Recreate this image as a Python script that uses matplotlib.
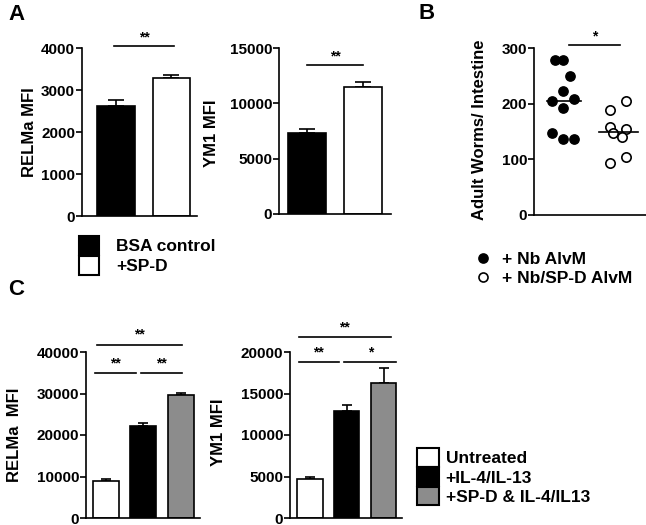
import matplotlib
matplotlib.use("Agg")
import matplotlib.pyplot as plt
from matplotlib.patches import Patch
from matplotlib.lines import Line2D

plt.rcParams['font.family'] = ['Liberation Sans', 'DejaVu Sans']
plt.rcParams['font.weight'] = 'bold'

# --- datos panel A ---
grupos_a = ["BSA control", "+SP-D"]
colores_a = ["black", "white"]
relma_a = [2620, 3280]
relma_a_err = [150, 80]
ym1_a = [7300, 11480]
ym1_a_err = [420, 450]

# --- datos panel B ---
nb_alvm = [278, 279, 250, 222, 208, 204, 192, 148, 136, 136]
nb_alvm_dx = [-0.15, 0.0, 0.13, 0.0, 0.2, -0.2, 0.0, -0.2, 0.0, 0.19]
spd_alvm = [188, 205, 158, 154, 148, 140, 105, 93]
spd_alvm_dx = [-0.15, 0.13, -0.15, 0.13, -0.09, 0.07, 0.13, -0.15]
mediana_b = [205, 149]

# --- datos panel C ---
grupos_c = ["Untreated", "+IL-4/IL-13", "+SP-D & IL-4/IL13"]
colores_c = ["white", "black", "#8c8c8c"]
relma_c = [8900, 22100, 29700]
relma_c_err = [400, 800, 500]
ym1_c = [4720, 12860, 16300]
ym1_c_err = [240, 800, 1770]

W, H = 646, 525
fig = plt.figure(figsize=(W / 100, H / 100), dpi=100)


def eje(x0, y0, x1, y1):
    """Crea ejes a partir de coordenadas en pixeles (arriba-izquierda)"""
    ax = fig.add_axes([x0 / W, 1 - y1 / H, (x1 - x0) / W, (y1 - y0) / H])
    for s in ["top", "right"]:
        ax.spines[s].set_visible(False)
    for s in ["left", "bottom"]:
        ax.spines[s].set_linewidth(1.2)
    ax.tick_params(axis="y", width=1.2, length=4, pad=1)
    ax.tick_params(axis="x", bottom=False, labelbottom=False)
    return ax


def ticks_y(ax, lim, valores):
    ax.set_ylim(0, lim)
    ax.set_yticks(valores)
    ax.set_yticklabels([str(v) for v in valores], fontsize=11, fontweight="bold")


def barras(ax, valores, errores, colores, ancho, capsize):
    x = list(range(len(valores)))
    ax.bar(x, valores, width=ancho, color=colores, edgecolor="black", linewidth=1.2, zorder=2)
    ax.errorbar(x, valores, yerr=[[0] * len(errores), errores], fmt="none",
                ecolor="black", elinewidth=1.2, capsize=capsize, capthick=1.2, zorder=1)


def signif(ax, x0, x1, y, texto, dy):
    ax.plot([x0, x1], [y, y], color="black", lw=1.2, clip_on=False)
    ax.text((x0 + x1) / 2, y + dy, texto, ha="center", va="bottom", fontsize=10,
            fontweight="bold", clip_on=False)


def ylabel(x, y, texto):
    fig.text(x / W, 1 - y / H, texto, rotation=90, ha="center", va="center",
             fontsize=12, fontweight="bold")


# Panel A izquierda
ax1 = eje(82, 48, 197, 216)
barras(ax1, relma_a, relma_a_err, colores_a, 0.68, 5.5)
ax1.set_xlim(-0.61, 1.46)
ticks_y(ax1, 4000, [0, 1000, 2000, 3000, 4000])
signif(ax1, -0.03, 1.05, 4050, "**", 40)
ylabel(29, 132, "RELMa MFI")

# Panel A derecha
ax2 = eje(279, 48, 391, 214)
barras(ax2, ym1_a, ym1_a_err, colores_a, 0.68, 5.5)
ax2.set_xlim(-0.5, 1.5)
ticks_y(ax2, 15000, [0, 5000, 10000, 15000])
signif(ax2, 0.0, 1.0, 13450, "**", 150)
ylabel(212, 133, "YM1 MFI")

# Panel B
ax3 = eje(534, 48, 646, 215)
ax3.scatter([0 + d for d in nb_alvm_dx], nb_alvm, s=45, color="black", zorder=3)
ax3.scatter([1 + d for d in spd_alvm_dx], spd_alvm, s=45, facecolor="white",
            edgecolor="black", linewidth=1.2, zorder=3)
ax3.plot([-0.3, 0.32], [mediana_b[0]] * 2, color="black", lw=1.2, zorder=4)
ax3.plot([0.65, 1.35], [mediana_b[1]] * 2, color="black", lw=1.2, zorder=4)
ax3.set_xlim(-0.53, 1.5)
ticks_y(ax3, 300, [0, 100, 200, 300])
signif(ax3, 0.1, 1.03, 305, "*", 3)
ylabel(479, 130, "Adult Worms/ Intestine")

# Panel C izquierda
ax4 = eje(86, 352, 200, 518)
barras(ax4, relma_c, relma_c_err, colores_c, 0.7, 3.6)
ax4.set_xlim(-0.54, 2.52)
ticks_y(ax4, 40000, [0, 10000, 20000, 30000, 40000])
signif(ax4, -0.25, 2.03, 41800, "**", 700)
signif(ax4, -0.3, 0.8, 34900, "**", 700)
signif(ax4, 0.94, 2.03, 34900, "**", 700)
ylabel(15, 435, "RELMa  MFI")

# Panel C derecha
ax5 = eje(290, 352, 402, 518)
barras(ax5, ym1_c, ym1_c_err, colores_c, 0.7, 3.6)
ax5.set_xlim(-0.53, 2.5)
ticks_y(ax5, 20000, [0, 5000, 10000, 15000, 20000])
signif(ax5, -0.3, 2.2, 21750, "**", 350)
signif(ax5, -0.3, 0.8, 18750, "**", 350)
signif(ax5, 0.94, 2.35, 18750, "*", 350)
ylabel(219, 432, "YM1 MFI")

# Leyendas
h_a = [Patch(facecolor=c, edgecolor="black", linewidth=1.5) for c in colores_a]
fig.legend(h_a, grupos_a, loc="upper left", bbox_to_anchor=(79 / W, 1 - 236 / H),
           frameon=False, handlelength=1.15, handleheight=1.3,
           handletextpad=1.0, labelspacing=0.05, borderpad=0, borderaxespad=0,
           prop={"weight": "bold", "size": 12.5})

h_b = [Line2D([], [], marker="o", ls="none", markersize=6.5, markerfacecolor=f,
              markeredgecolor="black", markeredgewidth=1.2) for f in ["black", "white"]]
fig.legend(h_b, ["+ Nb AlvM", "+ Nb/SP-D AlvM"], loc="upper left",
           bbox_to_anchor=(474 / W, 1 - 252 / H), frameon=False, handlelength=1.0,
           handletextpad=0.6, labelspacing=0.2, borderpad=0, borderaxespad=0,
           prop={"weight": "bold", "size": 12.5})

h_c = [Patch(facecolor=c, edgecolor="black", linewidth=1.5) for c in colores_c]
fig.legend(h_c, grupos_c, loc="upper left", bbox_to_anchor=(417 / W, 1 - 448 / H),
           frameon=False, handlelength=1.25, handleheight=1.3,
           handletextpad=0.4, labelspacing=0.02, borderpad=0, borderaxespad=0,
           prop={"weight": "bold", "size": 12.5})

# Letras de panel
fig.text(8 / W, 1 - 4 / H, "A", fontsize=16, fontweight="bold", va="top")
fig.text(418 / W, 1 - 3 / H, "B", fontsize=16, fontweight="bold", va="top")
fig.text(8 / W, 1 - 279 / H, "C", fontsize=16, fontweight="bold", va="top")

fig.savefig("out.png", dpi=100)
